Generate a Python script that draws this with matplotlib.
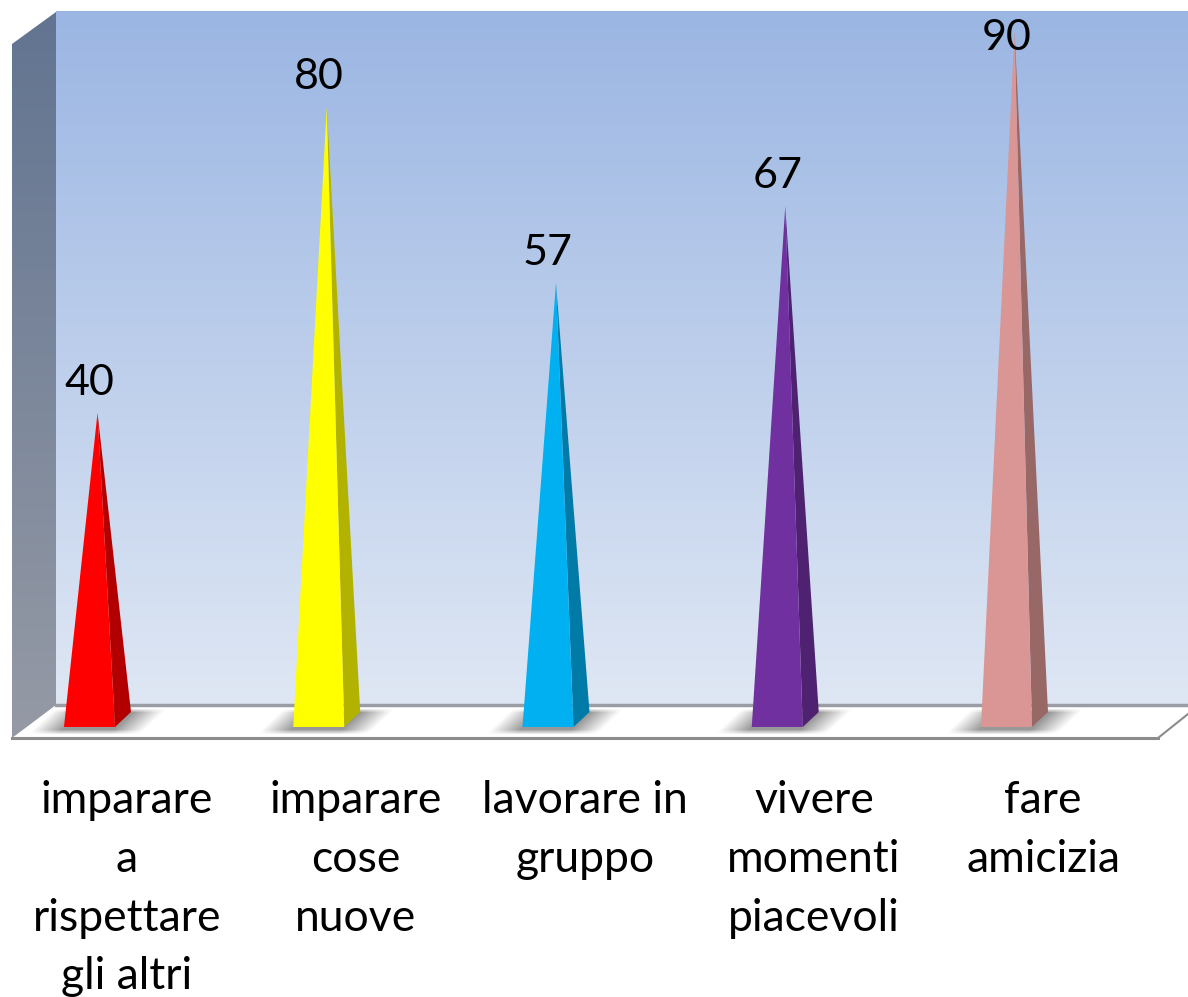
import matplotlib
matplotlib.use('Agg')
import matplotlib.pyplot as plt
import numpy as np
from matplotlib.colors import LinearSegmentedColormap
from matplotlib.patches import Polygon

# Data
categories = ['imparare\na\nrispettare\ngli altri', 'imparare\ncose\nnuove', 'lavorare in\ngruppo',
              'vivere\nmomenti\npiacevoli', 'fare\namicizia']
values = [40, 80, 57, 67, 90]
front_colors = ['#ff0000', '#ffff00', '#00b0f0', '#7030a0', '#d99694']
side_colors = ['#b20000', '#b2b200', '#007ba8', '#4e2270', '#976866']

plt.rcParams['font.family'] = 'Lato'
W, H = 1188, 997
fig = plt.figure(figsize=(W / 100, H / 100), dpi=100, facecolor='white')

# pixel axes for the box of the chart
bg = fig.add_axes([0, 0, 1, 1])
bg.axis('off')
bg.set_xlim(0, W)
bg.set_ylim(H, 0)
bg.autoscale(False)

back = LinearSegmentedColormap.from_list('back', ['#9bb6e3', '#dfe7f4'])
wall = LinearSegmentedColormap.from_list('wall', ['#627491', '#959aa5'])
grad = np.linspace(0, 1, 256).reshape(-1, 1)
bg.imshow(grad, cmap=back, extent=[56, W, 705, 12], aspect='auto', zorder=1)
im = bg.imshow(grad, cmap=wall, extent=[12, 56, 738, 12], aspect='auto', zorder=1)
im.set_clip_path(Polygon([(12, 44), (56, 12), (56, 705), (12, 738)], transform=bg.transData))

# floor
bg.add_patch(Polygon([(15, 738), (56, 705), (W, 705), (W, 714), (1158, 738)], fc='white', ec='none', zorder=2))
bg.plot([56, W], [705, 705], color='#9a9da3', lw=2.5, zorder=3)
bg.plot([12, 1158], [738, 738], color='#8c8c8c', lw=2.2, zorder=3)
bg.plot([1158, W], [738, 714], color='#8c8c8c', lw=1.5, zorder=3)

# value axis: 0 sits in the middle of the bar footprint, 7.65 px per unit
PX_X = 229.25
PX_Y = 7.65
ZERO = 719
ax = fig.add_axes([0, 0, 1, 1])
ax.patch.set_alpha(0)
ax.axis('off')
ax.set_xlim(-97.5 / PX_X, (W - 97.5) / PX_X)
ax.set_ylim((ZERO - H) / PX_Y, ZERO / PX_Y)
ax.autoscale(False)

front_y = -8 / PX_Y
back_y = 7 / PX_Y
half = 33.5 / PX_X
side = 16 / PX_X

# soft floor shadow around a bar footprint, in px relative to the bar centre
gx, gy = np.meshgrid(np.arange(-70.0, 80.0), np.arange(708.0, 735.0))
gu = gx - (727 - gy) * 16 / 15
dist = np.maximum(np.maximum(-33.5 - gu, gu - 17.5), 0)
fade = np.clip(1 - dist / 30, 0, 1) * np.clip((gy - 708) / 4, 0, 1) * np.clip((734 - gy) / 5, 0, 1)
shadow_img = np.zeros(gx.shape + (4,))
shadow_img[..., :3] = 0.5
shadow_img[..., 3] = fade * 0.8

for i, (v, fc, sc) in enumerate(zip(values, front_colors, side_colors)):
    ax.imshow(shadow_img, aspect='auto', zorder=2, interpolation='bilinear',
              extent=[i - 70 / PX_X, i + 80 / PX_X, (ZERO - 735) / PX_Y, (ZERO - 708) / PX_Y])
    ax.add_patch(Polygon([(i + half - side, front_y), (i + half, back_y), (i, v)], fc=sc, ec='none', zorder=3))
    ax.add_patch(Polygon([(i - half, front_y), (i + half - side, front_y), (i, v)], fc=fc, ec='none', zorder=4))
    # label above the tip, held inside the box at the top
    ax.text(i - 8 / PX_X, min(v + 2.4, 87.4), str(v), ha='center', va='baseline', fontsize=31, color='black', zorder=5)

for i, label in enumerate(categories):
    bg.text(127 + i * 229, 780, label, ha='center', va='top', fontsize=32, linespacing=1.54, color='black', zorder=5)

fig.savefig('out.png', dpi=100)
